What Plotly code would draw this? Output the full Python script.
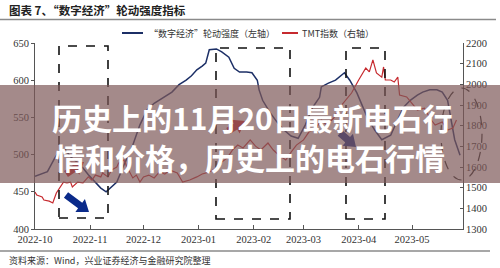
import plotly.graph_objects as go

# ---------------- data ----------------
blue_dates = ["2022-10-01","2022-10-08","2022-10-12","2022-10-15","2022-10-18","2022-10-21","2022-10-25",
              "2022-10-28","2022-10-31","2022-11-04","2022-11-07","2022-11-10","2022-11-13","2022-11-16",
              "2022-11-20","2022-11-25","2022-11-29","2022-12-03","2022-12-07","2022-12-12","2022-12-17",
              "2022-12-21","2022-12-25","2022-12-28","2022-12-31","2023-01-03","2023-01-05","2023-01-07",
              "2023-01-09","2023-01-11","2023-01-14","2023-01-16","2023-01-18","2023-01-21","2023-01-24",
              "2023-01-28","2023-01-31","2023-02-03","2023-02-04","2023-02-06","2023-02-10","2023-02-14",
              "2023-02-18","2023-02-22","2023-02-26","2023-03-02","2023-03-06","2023-03-10","2023-03-11",
              "2023-03-15","2023-03-19","2023-03-24","2023-03-27","2023-03-31","2023-04-03","2023-04-06",
              "2023-04-10","2023-04-14","2023-04-19","2023-04-23","2023-04-26","2023-04-30","2023-05-04",
              "2023-05-07","2023-05-11","2023-05-15","2023-05-18","2023-05-21","2023-05-23","2023-05-25",
              "2023-05-28"]
blue_values = [471,477,495,506,507,497,489,
               482,473,463,455,450,456,463,
               486,513,540,560,569,577,584,
               594,600,606,614,619,623,641,
               642,642,638,635,631,616,611,
               611,610,600,587,573,557,544,
               533,525,522,540,563,577,591,
               596,600,610,600,583,567,549,
               533,520,526,547,563,573,580,
               584,587,587,584,573,547,520,
               499]

red_dates = ["2022-10-01","2022-10-02","2022-10-05","2022-10-06","2022-10-09","2022-10-11","2022-10-13",
             "2022-10-15","2022-10-17","2022-10-19","2022-10-21","2022-10-22","2022-10-25","2022-10-28",
             "2022-10-31","2022-11-02","2022-11-04","2022-11-07","2022-11-08","2022-11-11","2022-11-13",
             "2022-11-16","2022-11-17","2022-11-20","2022-11-22","2022-11-25","2022-11-27","2022-11-29",
             "2022-12-01","2022-12-04","2022-12-07","2022-12-10","2022-12-13","2022-12-16","2022-12-20",
             "2022-12-23","2022-12-27","2022-12-31","2023-01-03","2023-01-07","2023-01-11","2023-01-14",
             "2023-01-17","2023-01-20","2023-01-23","2023-01-26","2023-01-30","2023-02-02","2023-02-05",
             "2023-02-09","2023-02-12","2023-02-15","2023-02-19","2023-02-22","2023-02-25","2023-03-01",
             "2023-03-04","2023-03-08","2023-03-11","2023-03-14","2023-03-18","2023-03-21","2023-03-25",
             "2023-03-28","2023-04-01","2023-04-05","2023-04-07","2023-04-09","2023-04-11","2023-04-14",
             "2023-04-15","2023-04-16","2023-04-19","2023-04-21","2023-04-23","2023-04-24","2023-04-28",
             "2023-05-01","2023-05-04","2023-05-08","2023-05-11","2023-05-14","2023-05-18","2023-05-21",
             "2023-05-24","2023-05-26"]
red_values = [1479,1464,1455,1440,1435,1426,1474,
              1498,1527,1523,1527,1503,1527,1523,
              1552,1537,1561,1552,1571,1552,1585,
              1600,1619,1634,1595,1547,1561,1527,
              1552,1561,1547,1576,1566,1585,1571,
              1527,1537,1552,1566,1576,1595,1624,
              1643,1682,1706,1692,1731,1701,1682,
              1716,1682,1658,1634,1672,1706,1731,
              1769,1789,1827,1803,1837,1885,1924,
              1958,2021,2079,2060,2118,2055,2035,
              2084,2021,2021,2011,2035,1948,1939,
              1909,1876,1885,1837,1803,1818,1779,
              1789,1827]

title_text = "图表 7、“数字经济”轮动强度指标"
legend_blue = "“数字经济”轮动强度（左轴）"
legend_red = "TMT指数（右轴）"
source_text = "资料来源：Wind，兴业证券经济与金融研究院整理"
banner_line1 = "历史上的11月20日最新电石行"
banner_line2 = "情和价格，历史上的电石行情"

BLUE = "#1c2f66"
RED = "#c62a2f"

# ---------------- layout helpers (pixel -> paper) ----------------
L, R, T, B = 35, 463, 43, 229
W, H = 500, 268
def px(x):
    return (x - L) / (R - L)
def py(y):
    return (B - y) / (B - T)

fig = go.Figure()
fig.add_trace(go.Scatter(x=blue_dates, y=blue_values, mode="lines", name=legend_blue,
                         line=dict(color=BLUE, width=1.5), yaxis="y"))
fig.add_trace(go.Scatter(x=red_dates, y=red_values, mode="lines", name=legend_red,
                         line=dict(color=RED, width=1.2), yaxis="y2"))

tickfont = dict(family="'Liberation Serif', 'DejaVu Serif', serif", size=10.5, color="#333333")
fig.update_layout(
    width=W, height=H,
    margin=dict(l=L, r=W - R, t=T, b=H - B, pad=0),
    paper_bgcolor="white", plot_bgcolor="white",
    showlegend=False,
    xaxis=dict(type="date", range=["2022-10-01", "2023-05-29 16:00"], dtick="M1",
               tick0="2022-10-01", tickformat="%Y-%m", ticks="inside", ticklen=4,
               tickcolor="#555", showline=True, linecolor="#555", linewidth=1,
               showgrid=False, zeroline=False, tickfont=tickfont),
    yaxis=dict(range=[400, 650], dtick=50, ticks="outside", ticklen=3, tickcolor="#555",
               showline=True, linecolor="#555", linewidth=1, showgrid=False, zeroline=False,
               tickfont=tickfont),
    yaxis2=dict(range=[1300, 2200], dtick=100, overlaying="y", side="right", ticks="inside",
                ticklen=3, tickcolor="#555", showline=True, linecolor="#555", linewidth=1,
                showgrid=False, zeroline=False, tickfont=tickfont),
)

shapes = []
# header & footer rules
shapes.append(dict(type="line", xref="paper", yref="paper", x0=px(0), x1=px(496), y0=py(19.5), y1=py(19.5),
                   line=dict(color="#8a8a8a", width=1.5)))
shapes.append(dict(type="line", xref="paper", yref="paper", x0=px(0), x1=px(490), y0=py(251), y1=py(251),
                   line=dict(color="#8a8a8a", width=1.5)))
# legend line samples
shapes.append(dict(type="line", xref="paper", yref="paper", x0=px(122), x1=px(143), y0=py(33), y1=py(33),
                   line=dict(color=BLUE, width=2)))
shapes.append(dict(type="line", xref="paper", yref="paper", x0=px(282), x1=px(298), y0=py(33), y1=py(33),
                   line=dict(color=RED, width=2)))
# dashed boxes
for (x0, x1, y0, y1) in [(59, 108, 46, 218), (216, 290, 48, 219), (346, 385, 48, 219)]:
    shapes.append(dict(type="rect", xref="paper", yref="paper", x0=px(x0), x1=px(x1), y0=py(y1), y1=py(y0),
                       line=dict(color="#111", width=1.6, dash="dash"), fillcolor="rgba(0,0,0,0)"))
# dashed ellipse
shapes.append(dict(type="circle", xref="paper", yref="paper", x0=px(441), x1=px(482), y0=py(180), y1=py(88),
                   line=dict(color="#222", width=1.2, dash="dash"), fillcolor="rgba(0,0,0,0)"))

def arrow_path(tx, ty, hx, hy, shaft=3.5, head=8.0, headlen=11.0):
    import math
    dx, dy = hx - tx, hy - ty
    ln = math.hypot(dx, dy)
    ux, uy = dx / ln, dy / ln
    nx, ny = -uy, ux
    bx, by = hx - headlen * ux, hy - headlen * uy
    pts = [(tx - shaft * nx, ty - shaft * ny), (bx - shaft * nx, by - shaft * ny),
           (bx - head * nx, by - head * ny), (hx, hy),
           (bx + head * nx, by + head * ny), (bx + shaft * nx, by + shaft * ny),
           (tx + shaft * nx, ty + shaft * ny)]
    s = "M " + " L ".join(f"{px(x):.5f},{py(y):.5f}" for x, y in pts) + " Z"
    return s

# arrows
shapes.append(dict(type="path", xref="paper", yref="paper", path=arrow_path(66, 195, 89, 212),
                   fillcolor="#0a2a8a", line=dict(width=0)))
shapes.append(dict(type="path", xref="paper", yref="paper", path=arrow_path(66, 174, 84, 162),
                   fillcolor="#d0242a", line=dict(width=0)))
shapes.append(dict(type="path", xref="paper", yref="paper", path=arrow_path(228, 131, 245, 121),
                   fillcolor="#d0242a", line=dict(width=0)))
shapes.append(dict(type="path", xref="paper", yref="paper", path=arrow_path(340, 133, 356, 147),
                   fillcolor="#0a2a8a", line=dict(width=0)))
# banner overlay
shapes.append(dict(type="rect", xref="paper", yref="paper", x0=px(0), x1=px(500), y0=py(183), y1=py(85),
                   fillcolor="rgba(125,88,88,0.70)", line=dict(width=0), layer="above"))
fig.update_layout(shapes=shapes)

cjk = "Noto Sans CJK SC"
ann = []
ann.append(dict(text=f"<b>{title_text}</b>", xref="paper", yref="paper", x=px(7), y=py(10),
                xanchor="left", yanchor="middle", showarrow=False,
                font=dict(family=cjk, size=11.5, color="#222")))
ann.append(dict(text=legend_blue, xref="paper", yref="paper", x=px(147), y=py(33),
                xanchor="left", yanchor="middle", showarrow=False,
                font=dict(family=cjk, size=9, color="#333")))
ann.append(dict(text=legend_red, xref="paper", yref="paper", x=px(300), y=py(33),
                xanchor="left", yanchor="middle", showarrow=False,
                font=dict(family=cjk, size=9, color="#333")))
ann.append(dict(text=source_text, xref="paper", yref="paper", x=px(7), y=py(260),
                xanchor="left", yanchor="middle", showarrow=False,
                font=dict(family=cjk, size=9, color="#333")))
ann.append(dict(text=f"<b>{banner_line1}</b>", xref="paper", yref="paper", x=px(252), y=py(117),
                xanchor="center", yanchor="middle", showarrow=False,
                font=dict(family=cjk, size=30, color="white")))
ann.append(dict(text=f"<b>{banner_line2}</b>", xref="paper", yref="paper", x=px(250), y=py(157),
                xanchor="center", yanchor="middle", showarrow=False,
                font=dict(family=cjk, size=30, color="white")))
fig.update_layout(annotations=ann)

fig.write_html("out.html")
